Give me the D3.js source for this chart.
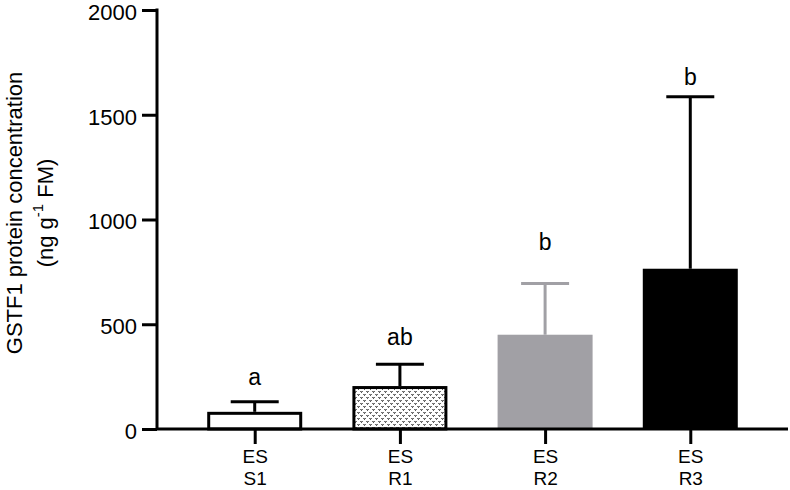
<!DOCTYPE html>
<html>
<head>
<meta charset="utf-8">
<script src="https://cdn.jsdelivr.net/npm/d3@7"></script>
<style>
  body { margin: 0; background: #fff; }
  text { font-family: "Liberation Sans", Arial, sans-serif; fill: #000; }
</style>
</head>
<body>
<svg id="chart" width="790" height="490"></svg>
<script>
  const groups = ['S1', 'R1', 'R2', 'R3'];
  const means = [82, 205, 450, 765];
  const errors = [48, 104, 244, 821];
  const letters = ['a', 'ab', 'b', 'b'];
  const letterAt = [210, 400, 855, 1640];
  const yTicks = [0, 500, 1000, 1500, 2000];

  const fills = ['#fff', 'url(#dots)', '#a1a0a5', '#000'];
  const strokes = ['#000', '#000', 'none', 'none'];
  const errColors = ['#000', '#000', '#a1a0a5', '#000'];

  const svg = d3.select('#chart');
  const mLeft = 157, mRight = 788, mTop = 10, mBottom = 429;

  const x = d3.scalePoint().domain(groups).range([mLeft, mRight]).padding(0.673);
  const y = d3.scaleLinear().domain([0, 2000]).range([mBottom, mTop]);
  const barW = 95;

  // dotted fill for R1
  const pat = svg.append('defs').append('pattern')
    .attr('id', 'dots')
    .attr('patternUnits', 'userSpaceOnUse')
    .attr('width', 6).attr('height', 6);
  pat.append('rect').attr('width', 6).attr('height', 6).attr('fill', '#fff');
  pat.append('path')
    .attr('d', 'M0.5,1 L1.5,2.5 L2.5,1 M3.5,4 L4.5,5.5 L5.5,4')
    .attr('stroke', '#222').attr('stroke-width', 1).attr('fill', 'none');

  const idx = d3.range(groups.length);

  // error bars
  const err = svg.append('g');
  err.selectAll('line.stem').data(idx).enter().append('line')
    .attr('x1', i => x(groups[i])).attr('x2', i => x(groups[i]))
    .attr('y1', i => y(means[i])).attr('y2', i => y(means[i] + errors[i]))
    .attr('stroke', i => errColors[i]).attr('stroke-width', 3);
  err.selectAll('line.cap').data(idx).enter().append('line')
    .attr('x1', i => x(groups[i]) - 24).attr('x2', i => x(groups[i]) + 24)
    .attr('y1', i => y(means[i] + errors[i])).attr('y2', i => y(means[i] + errors[i]))
    .attr('stroke', i => errColors[i]).attr('stroke-width', 3);

  // bars
  svg.append('g').selectAll('rect').data(idx).enter().append('rect')
    .attr('x', i => x(groups[i]) - barW / 2 + (strokes[i] === 'none' ? 0 : 1.5))
    .attr('width', i => barW - (strokes[i] === 'none' ? 0 : 3))
    .attr('y', i => y(means[i]) + (strokes[i] === 'none' ? 0 : 1.5))
    .attr('height', i => y(0) - y(means[i]) - (strokes[i] === 'none' ? 0 : 1.5))
    .attr('fill', i => fills[i])
    .attr('stroke', i => strokes[i])
    .attr('stroke-width', 3);

  // significance letters
  svg.append('g').selectAll('text').data(idx).enter().append('text')
    .attr('x', i => x(groups[i])).attr('y', i => y(letterAt[i]))
    .attr('text-anchor', 'middle')
    .style('font-size', '23px')
    .text(i => letters[i]);

  // y axis
  const yAxis = svg.append('g')
    .attr('transform', `translate(${mLeft},0)`)
    .call(d3.axisLeft(y).tickValues(yTicks).tickFormat(d3.format('d'))
      .tickSize(15).tickSizeOuter(0).tickPadding(5));
  yAxis.select('.domain').attr('stroke-width', 3).attr('d', `M0,${mTop - 1.5}V${mBottom}`);
  yAxis.selectAll('.tick line').attr('stroke-width', 3);
  yAxis.selectAll('.tick text').style('font-size', '22px').attr('dy', '0.42em');

  // x axis
  const xAxis = svg.append('g')
    .attr('transform', `translate(0,${mBottom})`)
    .call(d3.axisBottom(x).tickSize(15).tickSizeOuter(0).tickFormat(''));
  xAxis.select('.domain').attr('stroke-width', 3).attr('d', `M${mLeft},0H${mRight}`);
  xAxis.selectAll('.tick line').attr('stroke-width', 3);
  xAxis.selectAll('.tick').each(function (d) {
    const t = d3.select(this).append('text')
      .attr('text-anchor', 'middle').style('font-size', '19px');
    t.append('tspan').attr('x', 0).attr('y', 34).text('ES');
    t.append('tspan').attr('x', 0).attr('y', 56).text(d);
  });

  // axis title
  const title = svg.append('g').attr('transform', 'translate(0,213) rotate(-90)');
  title.append('text').attr('x', 0).attr('y', 22)
    .attr('text-anchor', 'middle').style('font-size', '22px')
    .text('GSTF1 protein concentration');
  const t2 = title.append('text').attr('x', 0).attr('y', 53)
    .attr('text-anchor', 'middle').style('font-size', '22px');
  t2.append('tspan').text('(ng g');
  t2.append('tspan').attr('dy', -10).style('font-size', '15px').text('-1');
  t2.append('tspan').attr('dy', 10).text(' FM)');
</script>
</body>
</html>
